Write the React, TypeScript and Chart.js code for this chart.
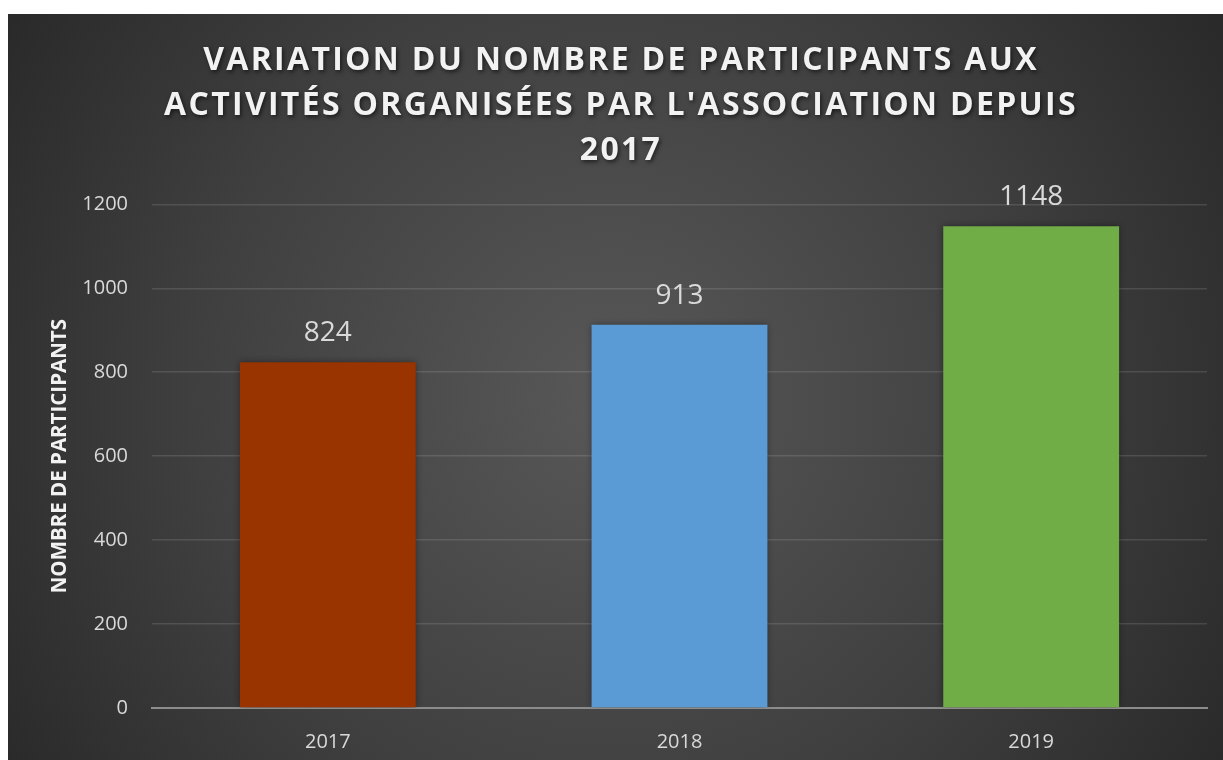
import React, { useEffect, useRef } from 'react';
import { Chart, registerables } from 'chart.js';

Chart.register(...registerables);

const categories = ['2017', '2018', '2019'];
const participants = [824, 913, 1148];
const barColors = ['#993300', '#5B9BD5', '#70AD47'];
const titleLines = [
  'VARIATION DU NOMBRE DE PARTICIPANTS AUX',
  "ACTIVITÉS ORGANISÉES PAR L'ASSOCIATION DEPUIS",
  '2017',
];
const yAxisTitle = 'NOMBRE DE PARTICIPANTS';
const yMin = 0;
const yMax = 1200;
const yStep = 200;

const FONT = "'Open Sans', 'DejaVu Sans', sans-serif";

const bgPlugin = {
  id: 'bgGradient',
  beforeDraw(chart: any) {
    const { ctx, width, height } = chart;
    ctx.save();
    const cx = width * 0.49;
    const cy = height * 0.5;
    const g = ctx.createRadialGradient(cx, cy, 0, cx, cy, Math.max(width, height) * 0.62);
    g.addColorStop(0, '#585858');
    g.addColorStop(0.55, '#3f3f3f');
    g.addColorStop(1, '#262626');
    ctx.fillStyle = g;
    ctx.fillRect(0, 0, width, height);
    ctx.restore();
    const tb = chart.titleBlock;
    if (tb && !tb.__patched) {
      const orig = tb.draw;
      tb.draw = function (...args: any[]) {
        const c = this.ctx || chart.ctx;
        c.save();
        try { (c as any).letterSpacing = '2.3px'; } catch (e) {}
        c.shadowColor = 'rgba(0,0,0,0.6)';
        c.shadowBlur = 4;
        c.shadowOffsetX = 1.5;
        c.shadowOffsetY = 2;
        orig.apply(this, args);
        c.restore();
      };
      tb.__patched = true;
    }
  },
};

const barShadowPlugin = {
  id: 'barShadow',
  beforeDatasetDraw(chart: any) {
    const ctx = chart.ctx;
    ctx.save();
    ctx.shadowColor = 'rgba(0,0,0,0.45)';
    ctx.shadowBlur = 7;
    ctx.shadowOffsetX = 0;
    ctx.shadowOffsetY = 0;
  },
  afterDatasetDraw(chart: any) {
    chart.ctx.restore();
  },
};

const valueLabelPlugin = {
  id: 'valueLabels',
  afterDatasetsDraw(chart: any) {
    const ctx = chart.ctx;
    const meta = chart.getDatasetMeta(0);
    ctx.save();
    ctx.font = `28px ${FONT}`;
    ctx.fillStyle = '#d9d9d9';
    ctx.textAlign = 'center';
    ctx.textBaseline = 'middle';
    meta.data.forEach((el: any, i: number) => {
      ctx.fillText(String(participants[i]), el.x, el.y - 29);
    });
    ctx.restore();
  },
};

export default function App() {
  const ref = useRef<HTMLCanvasElement | null>(null);
  useEffect(() => {
    if (!ref.current) return;
    const chart = new Chart(ref.current, {
      type: 'bar',
      data: {
        labels: categories,
        datasets: [
          {
            data: participants,
            backgroundColor: barColors,
            borderWidth: 0,
            barPercentage: 0.5,
            categoryPercentage: 1,
          },
        ],
      },
      options: {
        responsive: false,
        animation: false,
        devicePixelRatio: 1,
        layout: { padding: { left: 27, right: 32, top: 0, bottom: 6 } },
        plugins: {
          legend: { display: false },
          tooltip: { enabled: false },
          title: {
            display: true,
            text: titleLines,
            color: '#f2f2f2',
            font: { family: FONT, size: 32, weight: 'bold', lineHeight: 1.41 },
            padding: { top: 24, bottom: 31 },
          },
        },
        scales: {
          x: {
            grid: { display: false, drawTicks: false },
            border: { display: true, color: '#8c8c8c', width: 2 },
            ticks: { color: '#d9d9d9', font: { family: FONT, size: 20 }, padding: 22 },
          },
          y: {
            min: yMin,
            max: yMax,
            afterFit: (scale: any) => {
              scale.width = 117;
            },
            ticks: {
              stepSize: yStep,
              color: '#d9d9d9',
              font: { family: FONT, size: 20 },
              padding: 24,
              callback: (v: any) => String(v),
            },
            grid: { color: 'rgba(255,255,255,0.12)', lineWidth: 1.5, drawTicks: false },
            border: { display: false },
            title: {
              display: true,
              text: yAxisTitle,
              color: '#f2f2f2',
              font: { family: FONT, size: 20.5, weight: 'bold' },
              padding: { top: 13, bottom: 9 },
            },
          },
        },
      },
      plugins: [bgPlugin, barShadowPlugin, valueLabelPlugin],
    });
    return () => chart.destroy();
  }, []);
  return (
    <div style={{ position: 'fixed', left: 8, top: 14, width: 1215, height: 746, overflow: 'hidden' }}>
      <canvas ref={ref} width={1231} height={768} style={{ display: 'block' }} />
    </div>
  );
}
